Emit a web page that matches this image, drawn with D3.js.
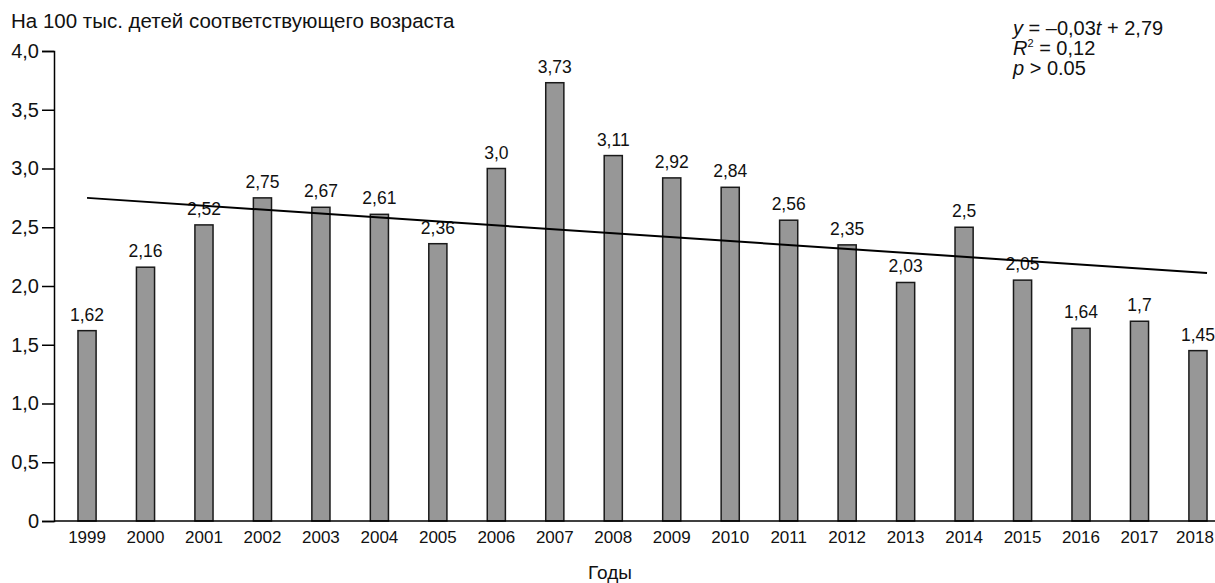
<!DOCTYPE html>
<html lang="ru">
<head>
<meta charset="utf-8">
<script src="https://cdn.jsdelivr.net/npm/d3@7"></script>
<style>
  html, body { margin: 0; padding: 0; background: #fff; }
  svg { display: block; }
  text { font-family: "Liberation Sans", Arial, sans-serif; fill: #111; }
</style>
</head>
<body>
<svg id="chart" width="1215" height="583"></svg>
<script>
// Заболеваемость на 100 тыс. детей, 1999–2018
const years = ["1999","2000","2001","2002","2003","2004","2005","2006","2007","2008",
               "2009","2010","2011","2012","2013","2014","2015","2016","2017","2018"];
const values = [1.62, 2.16, 2.52, 2.75, 2.67, 2.61, 2.36, 3.0, 3.73, 3.11,
                2.92, 2.84, 2.56, 2.35, 2.03, 2.5, 2.05, 1.64, 1.7, 1.45];
const valueLabels = ["1,62","2,16","2,52","2,75","2,67","2,61","2,36","3,0","3,73","3,11",
                     "2,92","2,84","2,56","2,35","2,03","2,5","2,05","1,64","1,7","1,45"];
const yTicks = [0, 0.5, 1.0, 1.5, 2.0, 2.5, 3.0, 3.5, 4.0];
const yTickLabels = ["0","0,5","1,0","1,5","2,0","2,5","3,0","3,5","4,0"];
// линейный тренд: значения на концах периода
const trendYears = ["1999", "2018"];
const trendValues = [2.75, 2.11];

const svg = d3.select("#chart");
const plotLeft = 54, plotBottom = 521, plotTop = 51;

const x = d3.scaleBand()
  .domain(years)
  .range([plotLeft, 1231])
  .paddingInner(0.69)
  .paddingOuter(0.41);

const y = d3.scaleLinear().domain([0, 4]).range([plotBottom, plotTop]);

// заголовок оси Y
svg.append("text")
  .attr("x", 11).attr("y", 28)
  .style("font-size", "20.5px")
  .text("На 100 тыс. детей соответствующего возраста");

// столбцы
svg.append("g").selectAll("rect")
  .data(values)
  .join("rect")
  .attr("x", (d, i) => x(years[i]))
  .attr("y", d => y(d))
  .attr("width", x.bandwidth())
  .attr("height", d => y(0) - y(d))
  .attr("fill", "#979797")
  .attr("stroke", "#1a1a1a")
  .attr("stroke-width", 1.5);

// подписи значений
svg.append("g").selectAll("text")
  .data(values)
  .join("text")
  .attr("x", (d, i) => x(years[i]) + x.bandwidth() / 2)
  .attr("y", d => y(d) - 10)
  .attr("text-anchor", "middle")
  .style("font-size", "17.5px")
  .text((d, i) => valueLabels[i]);

// линия тренда
const trendX = [x(trendYears[0]) + x.bandwidth() / 2, x(trendYears[1]) + x.bandwidth()];
svg.append("line")
  .attr("x1", trendX[0]).attr("y1", y(trendValues[0]))
  .attr("x2", trendX[1]).attr("y2", y(trendValues[1]))
  .attr("stroke", "#000")
  .attr("stroke-width", 2);

// ось Y
const yAxis = d3.axisLeft(y)
  .tickValues(yTicks)
  .tickFormat((d, i) => yTickLabels[i])
  .tickSizeOuter(0)
  .tickSize(12)
  .tickPadding(3);
const gy = svg.append("g").attr("transform", `translate(${plotLeft},0)`).call(yAxis);
gy.select(".domain").attr("stroke", "#000").attr("stroke-width", 1.5);
gy.selectAll(".tick line").attr("stroke", "#000").attr("stroke-width", 1.5);
gy.selectAll(".tick text").style("font-size", "20px").attr("fill", "#111")
  .style("font-family", "'Liberation Sans', Arial, sans-serif");

// ось X
const xAxis = d3.axisBottom(x).tickSize(0).tickPadding(10).tickSizeOuter(0);
const gx = svg.append("g").attr("transform", `translate(0,${plotBottom})`).call(xAxis);
gx.select(".domain").attr("d", `M${plotLeft},0H1215`).attr("stroke", "#000").attr("stroke-width", 1.5);
gx.selectAll(".tick text").style("font-size", "17px").attr("fill", "#111")
  .style("font-family", "'Liberation Sans', Arial, sans-serif");
// последняя подпись года прижата к краю — немного сдвигаем влево
gx.selectAll(".tick text").filter(d => d === years[years.length - 1]).attr("dx", -3);

// подпись оси X
svg.append("text")
  .attr("x", 610).attr("y", 579)
  .attr("text-anchor", "middle")
  .style("font-size", "19px")
  .text("Годы");

// уравнение тренда
const eq = svg.append("g").style("font-size", "20px");
const eq1 = eq.append("text").attr("x", 1013).attr("y", 35);
eq1.append("tspan").style("font-style", "italic").text("y");
eq1.append("tspan").text(" = –0,03");
eq1.append("tspan").style("font-style", "italic").text("t");
eq1.append("tspan").text(" + 2,79");
const eq2 = eq.append("text").attr("x", 1013).attr("y", 55);
eq2.append("tspan").style("font-style", "italic").text("R");
eq2.append("tspan").attr("dy", -8).style("font-size", "11px").text("2");
eq2.append("tspan").attr("dy", 8).text(" = 0,12");
const eq3 = eq.append("text").attr("x", 1013).attr("y", 75);
eq3.append("tspan").style("font-style", "italic").text("p");
eq3.append("tspan").text(" > 0.05");
</script>
</body>
</html>
